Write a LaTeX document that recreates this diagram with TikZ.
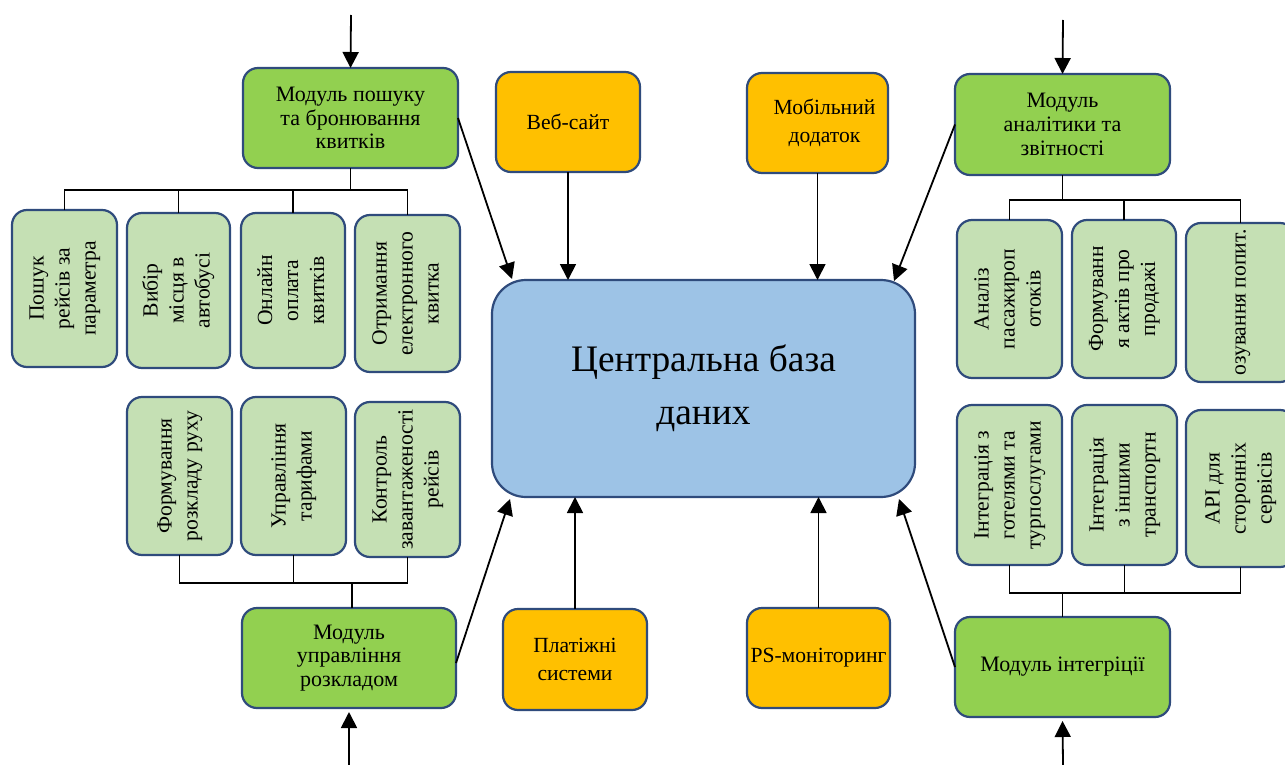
\documentclass[tikz,border=0pt]{standalone}
\usepackage{fontspec}
\setmainfont{Liberation Serif}
\usetikzlibrary{arrows.meta,calc}
\definecolor{bord}{HTML}{2F4B7C}
\definecolor{modg}{HTML}{92D050}
\definecolor{subg}{HTML}{C5E0B4}
\definecolor{orng}{HTML}{FFC000}
\definecolor{dbb}{HTML}{9DC3E6}
\newcommand{\rtx}[1]{\rotatebox{90}{\begin{tabular}{@{}c@{}}#1\end{tabular}}}
\begin{document}
\begin{tikzpicture}[x=0.5pt,y=-0.5pt,
  box/.style={draw=bord,line width=1.1pt,rounded corners=7.5pt,inner sep=0pt,outer sep=0pt,align=center},
  sz/.style 2 args={minimum width=#1*0.5pt,minimum height=#2*0.5pt},
  module/.style={box,fill=modg,font=\fontsize{11}{11.8}\selectfont},
  sub/.style={box,fill=subg,font=\fontsize{10.8}{13}\selectfont},
  ext/.style={box,fill=orng,font=\fontsize{10.8}{14.2}\selectfont},
  conn/.style={line width=0.9pt},
  arr/.style={conn,-{Triangle[length=8pt,width=8pt]}},
]
\fill[white] (0,0) rectangle (1285,765);
\useasboundingbox (0,0) rectangle (1285,765);

% central database
\node[box,fill=dbb,rounded corners=17pt,sz={423}{217},font=\fontsize{18.7}{26.5}\selectfont] (db) at (703.5,388.5) {Центральна база\\даних};

% modules
\node[module,sz={215}{100}] (m1) at (350.5,118) {Модуль пошуку\\та бронювання\\квитків};
\node[module,sz={214}{100}] (m2) at (349,658) {Модуль\\управління\\розкладом};
\node[module,sz={215}{101}] (am) at (1062.5,124.5) {Модуль\\аналітики та\\звітності};
\node[module,sz={215}{100}] (im) at (1062.5,667) {Модуль інтегріції};

% external systems
\node[ext,sz={144}{100}] (web) at (568,122) {Веб-сайт};
\node[ext,sz={141}{100}] (mob) at (817.5,123) {\hspace*{7pt}Мобільний\\\hspace*{7pt}додаток};
\node[ext,sz={144}{101}] (pay) at (575,659.5) {Платіжні\\системи};
\node[ext,sz={143}{100}] (psm) at (818.5,658) {PS-моніторинг};

% left upper sub-boxes
\node[sub,sz={105}{157}] (s1) at (64.5,288.5) {\rtx{Пошук\\рейсів за\\параметра}};
\node[sub,sz={103}{155}] (s2) at (178.5,290.5) {\rtx{Вибір\\місця в\\автобусі}};
\node[sub,sz={104}{155}] (s3) at (293,290.5) {\rtx{Онлайн\\оплата\\квитків}};
\node[sub,sz={105}{157}] (s4) at (407.5,293.5) {\rtx{Отримання\\електронного\\квитка}};

% left lower sub-boxes
\node[sub,sz={105}{158}] (s5) at (179.5,476) {\rtx{Формування\\розкладу руху}};
\node[sub,sz={105}{158}] (s6) at (293.5,476) {\rtx{Управління\\тарифами}};
\node[sub,sz={105}{155}] (s7) at (407.5,479.5) {\rtx{Контроль\\завантаженості\\рейсів}};

% right upper sub-boxes
\node[sub,sz={105}{158}] (sa) at (1009.5,299) {\rtx{Аналіз\\пасажироп\\отоків}};
\node[sub,sz={104}{158}] (sb) at (1124,299) {\rtx{Формуванн\\я актів про\\продажі}};
\node[sub,sz={109}{159}] (sc) at (1240.5,302.5) {\rtx{озування попит.}};

% right lower sub-boxes
\node[sub,sz={105}{160}] (sd) at (1009.5,485) {\rtx{Інтеграція з\\готелями та\\турпослугами}};
\node[sub,sz={105}{160}] (se) at (1124.5,485) {\rtx{Інтеграція\\з іншими\\транспортн}};
\node[sub,sz={109}{157}] (sf) at (1240.5,488.5) {\rtx{API для\\сторонніх\\сервісів}};

% bus coordinates
\coordinate (b1) at (351,190);
\coordinate (b2) at (352,583);
\coordinate (b3) at (1063,200);
\coordinate (b4) at (1063,593);

% left upper bus
\draw[conn] (m1.south) -- (m1.south |- b1);
\draw[conn] (s1.north) -- (s1.north |- b1) -- (s4.north |- b1) -- (s4.north);
\draw[conn] (s2.north) -- (s2.north |- b1);
\draw[conn] (s3.north) -- (s3.north |- b1);

% left lower bus
\draw[conn] (m2.north -| b2) -- (b2);
\draw[conn] (s5.south) -- (s5.south |- b2) -- (s7.south |- b2) -- (s7.south);
\draw[conn] (s6.south) -- (s6.south |- b2);

% right upper bus
\draw[conn] (am.south) -- (am.south |- b3);
\draw[conn] (sa.north) -- (sa.north |- b3) -- (sc.north |- b3) -- (sc.north);
\draw[conn] (sb.north) -- (sb.north |- b3);

% right lower bus
\draw[conn] (im.north) -- (im.north |- b4);
\draw[conn] (sd.south) -- (sd.south |- b4) -- (sf.south |- b4) -- (sf.south);
\draw[conn] (se.south) -- (se.south |- b4);

% incoming arrows from outside
\coordinate (t1) at (351,15);
\coordinate (t2) at (1063,20);
\coordinate (t3) at (349,765);
\coordinate (t4) at (1063,765);
\draw[arr] (t1) -- (m1.north);
\draw[arr] (t2) -- (am.north);
\draw[arr,shorten >=2pt] (t3) -- (m2.south);
\draw[arr,shorten >=2pt] (t4) -- (im.south);

% arrows into database
\draw[arr] (web.south) -- (web.south |- db.north);
\draw[arr] (mob.south) -- (mob.south |- db.north);
\draw[arr] (pay.north) -- (pay.north |- db.south);
\draw[arr] (psm.north) -- (psm.north |- db.south);

\coordinate (dTL) at (512,279);
\coordinate (dTR) at (894,281);
\coordinate (dBL) at (510,499);
\coordinate (dBR) at (899,499);
\draw[arr] (m1.east) -- (dTL);
\draw[arr] (am.west) -- (dTR);
\draw[arr] ($(m2.east)+(0,5)$) -- (dBL);
\draw[arr] (im.west) -- (dBR);
\end{tikzpicture}
\end{document}
